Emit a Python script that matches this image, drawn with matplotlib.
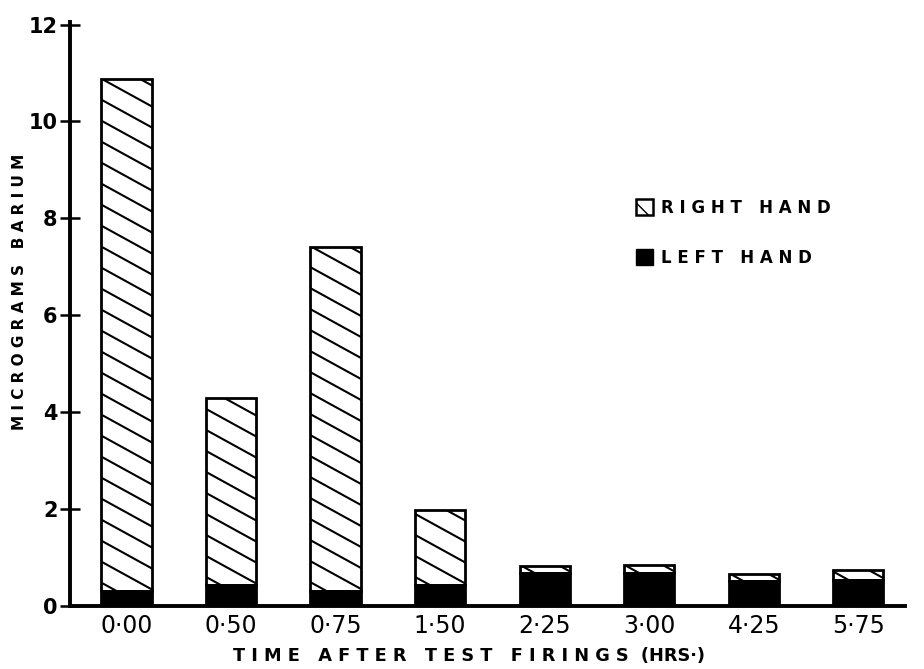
import matplotlib
matplotlib.use("Agg")
import matplotlib.pyplot as plt
from matplotlib.patches import Patch
from matplotlib.lines import Line2D
import numpy as np

categories = ["0·00", "0·50", "0·75", "1·50", "2·25", "3·00", "4·25", "5·75"]
left_hand = [0.31, 0.43, 0.32, 0.43, 0.68, 0.68, 0.51, 0.54]
right_hand = [10.56, 3.86, 7.09, 1.56, 0.15, 0.16, 0.15, 0.21]
y_ticks = [0, 2, 4, 6, 8, 10, 12]


def spaced(s):
    return "   ".join(" ".join(word) for word in s.split())


fig = plt.figure(figsize=(9.24, 6.69), dpi=100)
ax = fig.add_axes([0.0758, 0.094, 0.904, 0.873])

x = np.arange(len(categories))
w = 0.48
ax.set_xlim(-0.54, 7.45)
ax.set_ylim(0, 12.05)

ax.bar(x, left_hand, width=w, color="black", edgecolor="black", linewidth=2, zorder=3)
rbars = ax.bar(x, right_hand, width=w, bottom=left_hand, facecolor="white",
               edgecolor="black", linewidth=2, zorder=3)

# custom shallow diagonal hatch, clipped to each bar
fig.canvas.draw()
px_per_x = ax.transData.transform((1, 0))[0] - ax.transData.transform((0, 0))[0]
px_per_y = ax.transData.transform((0, 1))[1] - ax.transData.transform((0, 0))[1]
slope = 0.55 * px_per_x / px_per_y          # data-y drop per data-x
step = 21.0 / px_per_y                       # vertical spacing in data units
for xi, b, h, patch in zip(x, left_hand, right_hand, rbars):
    x0, x1 = xi - w / 2, xi + w / 2
    drop = slope * w
    k0 = b - 0.6 * step
    ys = np.arange(k0, b + h + drop + step, step)
    for yy in ys:
        ln = Line2D([x0, x1], [yy, yy - drop], color="black", linewidth=1.5, zorder=3.5)
        ax.add_line(ln)
        ln.set_clip_path(patch)
for patch in rbars:
    patch.set_zorder(4)
    patch.set_facecolor("none")

for s in ["top", "right"]:
    ax.spines[s].set_visible(False)
for s in ["left", "bottom"]:
    ax.spines[s].set_linewidth(2.8)

ax.set_yticks(y_ticks)
ax.set_yticklabels(y_ticks, fontsize=15, fontweight="bold")
ax.tick_params(axis="y", direction="inout", length=14, width=1.8, pad=2)
ax.set_xticks(x)
ax.set_xticklabels(categories, fontsize=17)
ax.tick_params(axis="x", length=0, pad=6)

ax.set_ylabel(spaced("MICROGRAMS BARIUM"), fontsize=11, fontweight="bold")
ax.yaxis.set_label_coords(-0.052, 0.538)
ax.set_xlabel(spaced("TIME AFTER TEST FIRINGS") + "  (HRS·)", fontsize=12.8,
              fontweight="bold", labelpad=4)
ax.xaxis.set_label_coords(0.478, -0.07)

handles = [Patch(facecolor="white", edgecolor="black", hatch="\\", linewidth=1.8),
           Patch(facecolor="black", edgecolor="black")]
ax.legend(handles, [spaced("RIGHT HAND"), spaced("LEFT HAND")], frameon=False,
          loc="upper left", bbox_to_anchor=(0.678, 0.697), handlelength=1.0,
          handleheight=1.1, handletextpad=0.5, labelspacing=1.9,
          borderaxespad=0, borderpad=0,
          prop={"size": 12, "weight": "bold"})

fig.savefig("out.png", dpi=100)
